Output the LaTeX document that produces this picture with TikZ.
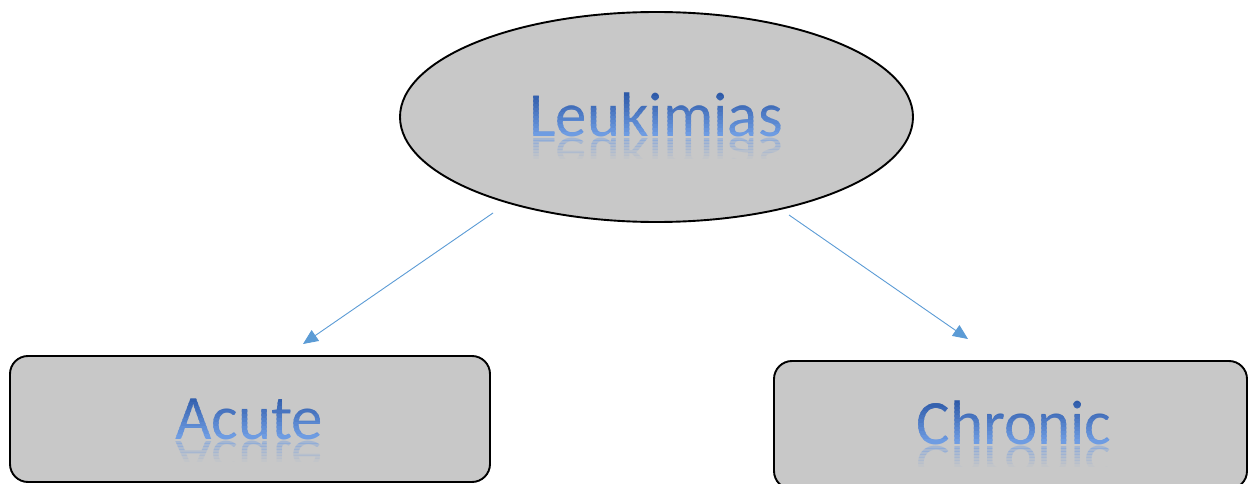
\documentclass[tikz,border=0pt]{standalone}
\usepackage{fontspec}
\setmainfont{Carlito}
\usetikzlibrary{shapes.geometric,arrows.meta}
\definecolor{boxgray}{HTML}{C8C8C8}
\definecolor{gA}{HTML}{2E5AA8}
\definecolor{gB}{HTML}{6E9CE2}
\definecolor{arrowblue}{HTML}{5B9BD5}
\tikzset{
  lbl/.style={font=\fontsize{63}{70}\selectfont, anchor=base, inner sep=0pt},
  shapebox/.style={draw=black, line width=1.9pt, fill=boxgray, inner sep=0pt},
  arr/.style={draw=arrowblue, line width=0.9pt, -{Triangle[length=15pt,width=13pt]}}
}
\newcommand\gradlabel[4]{%
  \begin{scope}
    \clip (#2-220,#3-70) rectangle (#2+220,#3-39.8);
    \node[lbl,text=gA] (#1) at (#2,#3) {#4};
  \end{scope}
  \foreach \i in {1,...,10}{
    \begin{scope}
      \ifnum\i<10
        \clip (#2-220,#3-44.2+4*\i) rectangle (#2+220,#3-39.8+4*\i);
      \else
        \clip (#2-220,#3-4.2) rectangle (#2+220,#3+4);
      \fi
      \node[lbl,text=gB!\i0!gA] at (#2,#3) {#4};
    \end{scope}
  }
  \foreach \j in {1,...,7}{
    \pgfmathsetmacro\op{0.4*(1-(\j-1)/7)}
    \begin{scope}
      \clip (#2-220,#3+1+3*\j-3) rectangle (#2+220,#3+1+3*\j);
      \node[lbl,text=gB,text opacity=\op,transform shape,yscale=-0.85] at (#2,#3+2) {#4};
    \end{scope}
  }
}
\begin{document}
\begin{tikzpicture}[x=1pt,y=-1pt]
\useasboundingbox (0,0) rectangle (1248,484);
\node[shapebox, ellipse, minimum width=513pt, minimum height=210pt] (L) at (656.5,117) {};
\node[shapebox, rectangle, rounded corners=18pt, minimum width=480pt, minimum height=126pt] (A) at (250,419) {};
\node[shapebox, rectangle, rounded corners=18pt, minimum width=473pt, minimum height=128pt] (C) at (1010.5,425) {};
\gradlabel{tL}{656}{137}{Leukimias}
\gradlabel{tA}{249}{439}{Acute}
\gradlabel{tC}{1014}{444}{Chronic}
\coordinate (s1) at (493,213);
\coordinate (e1) at (303,344);
\coordinate (s2) at (789,215);
\coordinate (e2) at (968,339);
\draw[arr] (s1) -- (e1);
\draw[arr] (s2) -- (e2);
\end{tikzpicture}
\end{document}
